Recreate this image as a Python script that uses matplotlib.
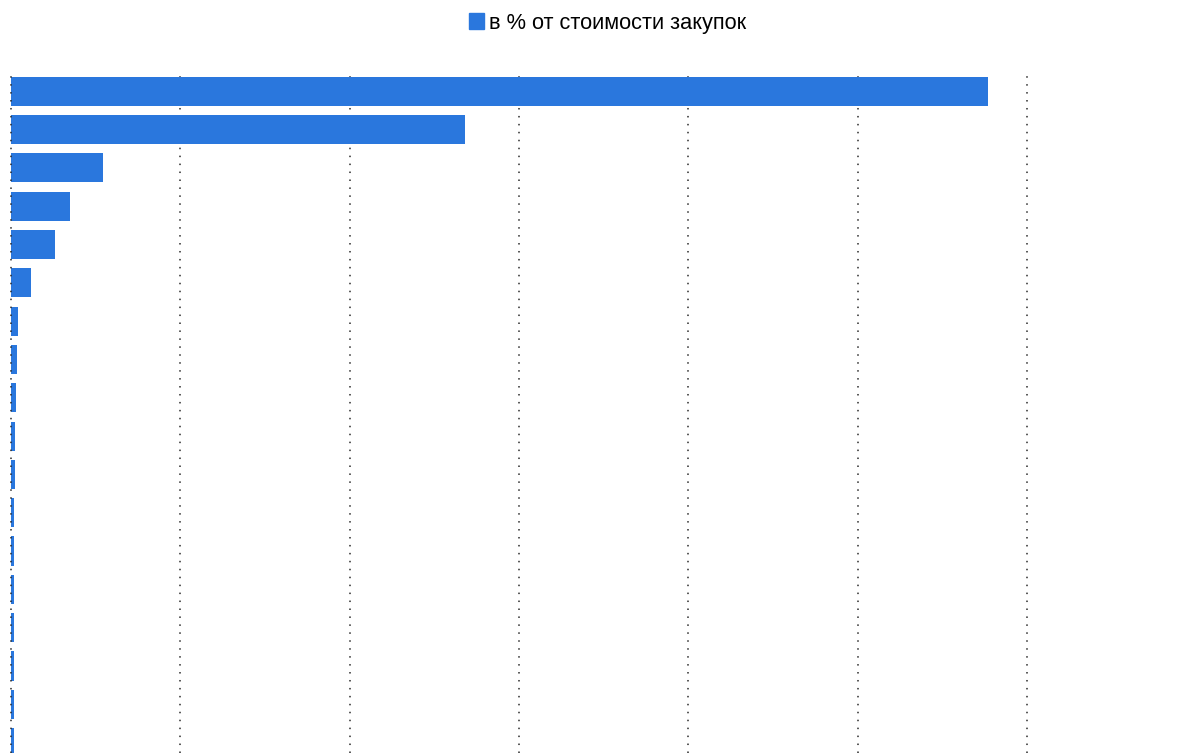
import matplotlib
matplotlib.use("Agg")
import matplotlib.pyplot as plt
from matplotlib.patches import Patch

# Share of each item in total procurement cost, sorted descending
shares = [57.7, 26.8, 5.46, 3.48, 2.6, 1.21, 0.44, 0.35, 0.27, 0.22,
          0.21, 0.19, 0.19, 0.18, 0.17, 0.16, 0.15, 0.15]
series_label = "в % от стоимости закупок"
bar_color = "#2a77dd"
grid_color = "#2b2b2b"

W, H = 1189, 753
fig = plt.figure(figsize=(W / 100, H / 100), dpi=100)
ax = fig.add_axes([11 / W, 0, (1027 - 11) / W, (753 - 72) / H])

positions = list(range(len(shares)))
ax.barh(positions, shares, height=0.76, color=bar_color, zorder=2)

ax.set_xlim(0, 60)
ax.set_ylim(17.27, -0.5)
ax.set_xticks(range(10, 61, 10))
ax.set_yticks([])
ax.tick_params(axis="x", length=0, labelbottom=False)
for s in ax.spines.values():
    s.set_visible(False)
for gl in ax.xaxis.get_gridlines():
    gl.set_clip_on(False)
ax.grid(axis="x", color=grid_color, linewidth=1.1, dashes=(1, 4.2), zorder=1)
# dotted baseline at zero, drawn over the bars
ax.axvline(0, color=grid_color, linewidth=1.1, dashes=(1, 4.2), zorder=3,
           clip_on=False)

fig.legend(handles=[Patch(color=bar_color, label=series_label)],
           loc="center", bbox_to_anchor=(608 / W, 1 - 23 / H),
           frameon=False, handlelength=0.67, handleheight=0.72,
           handletextpad=0.25, borderpad=0.2,
           prop={"family": "Liberation Sans", "size": 15.7})

fig.savefig("out.png", dpi=100)
